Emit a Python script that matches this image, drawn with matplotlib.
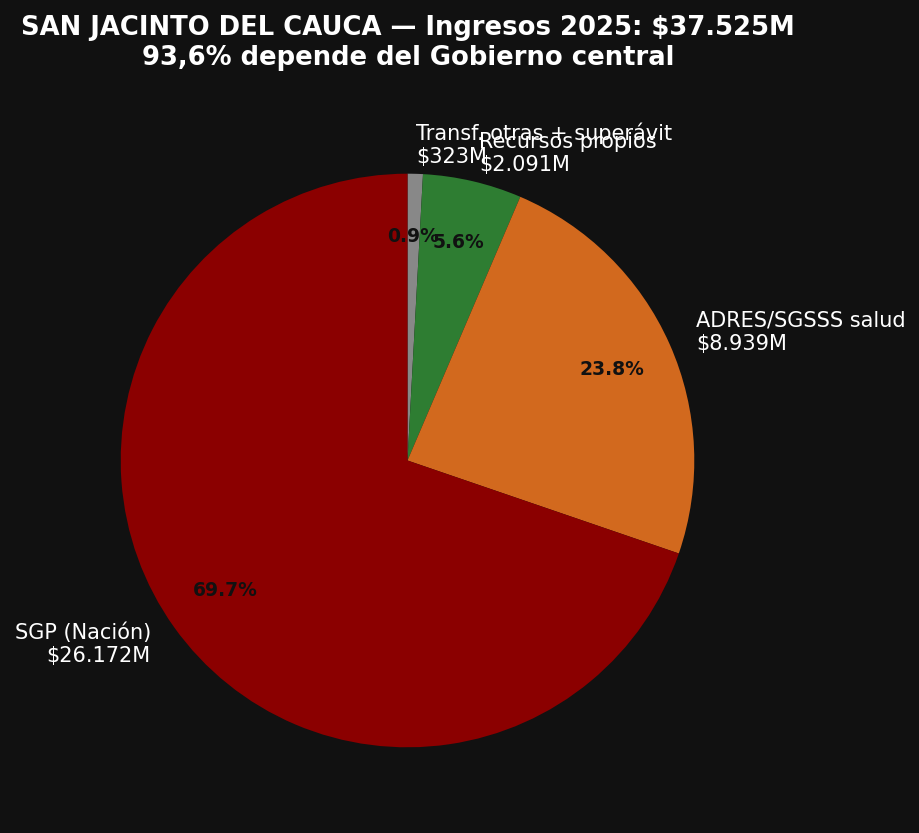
import matplotlib.pyplot as plt

# datos de ingresos 2025 (millones de pesos)
fuentes = ['Transf. otras + superávit', 'Recursos propios', 'ADRES/SGSSS salud', 'SGP (Nación)']
valores = [323, 2091, 8939, 26172]
colores = ['#888888', '#2e7d32', '#d2691e', '#8b0000']

etiquetas = [f"{f}\n${v:,}M".replace(',', '.') for f, v in zip(fuentes, valores)]

fig = plt.figure(figsize=(9.2, 8.33), dpi=100, facecolor='#111111')
ax = fig.add_axes([49 / 920, 14 / 833, 717 / 920, 717 / 833])
ax.set_facecolor('#111111')

wedges, textos, autotextos = ax.pie(
    valores, labels=etiquetas, colors=colores, startangle=90, counterclock=False,
    autopct='%1.1f%%', pctdistance=0.78, labeldistance=1.1,
    textprops={'color': 'white', 'fontsize': 15})

for t in autotextos:
    t.set_color('#111111')
    t.set_fontsize(13.5)
    t.set_fontweight('bold')

fig.suptitle('SAN JACINTO DEL CAUCA — Ingresos 2025: $37.525M\n93,6% depende del Gobierno central',
             x=408 / 920, y=0.982, color='white', fontsize=18.6, fontweight='bold')

fig.savefig('out.png', dpi=100, facecolor=fig.get_facecolor())
